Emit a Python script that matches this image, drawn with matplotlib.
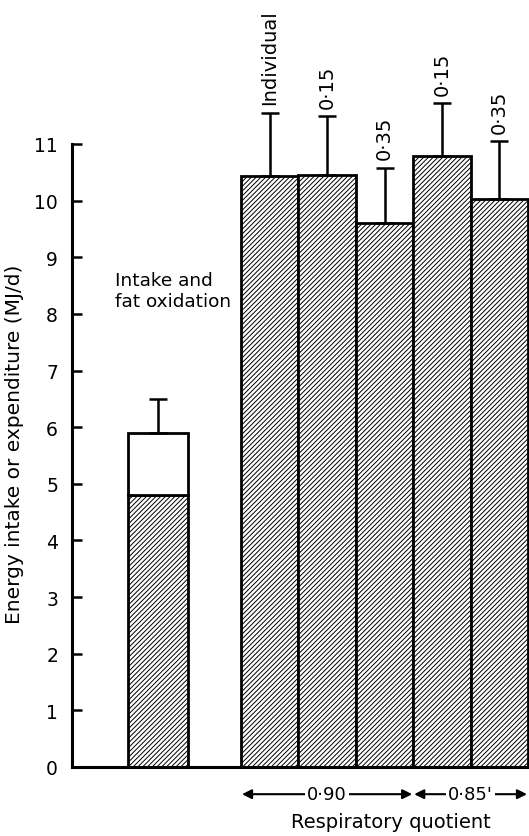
import numpy as np
import matplotlib.pyplot as plt

plt.rcParams['font.family'] = ['DejaVu Sans']
plt.rcParams['hatch.linewidth'] = 0.7

# left bar: intake split into fat oxidation (hatched) and remainder (open)
fat_oxidation = 4.8
intake_total = 5.9
intake_err = 0.6

# right bars: expenditure at different RQ / assumptions
exp_labels = ["Individual", "0\u00b715", "0\u00b735", "0\u00b715", "0\u00b735"]
exp_values = [10.43, 10.45, 9.6, 10.78, 10.03]
exp_errors = [1.12, 1.04, 0.98, 0.94, 1.02]
rq_groups = ["0\u00b790", "0\u00b785'"]
rq_sizes = [3, 2]

fig = plt.figure(figsize=(5.29, 8.37), dpi=100)
ax = fig.add_axes([72/529, 69/837, 457/529, 623/837])

lw = 2.0
hatch = '/' * 7
left_x, left_w = 86, 60
ax.bar(left_x, fat_oxidation, width=left_w, facecolor='white', edgecolor='black',
       hatch=hatch, linewidth=lw)
ax.bar(left_x, intake_total - fat_oxidation, bottom=fat_oxidation, width=left_w,
       facecolor='white', edgecolor='black', linewidth=lw)
ax.errorbar(left_x, intake_total, yerr=[[0], [intake_err]], fmt='none', ecolor='black',
            elinewidth=1.8, capsize=6.5, capthick=1.8, clip_on=False)

start, w = 169, 57.4
xs = start + w/2 + np.arange(len(exp_values)) * w
ax.bar(xs, exp_values, width=w, facecolor='white', edgecolor='black',
       hatch=hatch, linewidth=lw, clip_on=False)
ax.errorbar(xs, exp_values, yerr=[np.zeros(len(exp_errors)), exp_errors], fmt='none',
            ecolor='black', elinewidth=1.8, capsize=6.5, capthick=1.8, clip_on=False)
for x, v, e, lab in zip(xs, exp_values, exp_errors, exp_labels):
    ax.text(x, v + e + 0.15, lab, rotation=90, ha='center', va='bottom', fontsize=14)

ax.text(43, 8.75, "Intake and\nfat oxidation", fontsize=13.3, ha='left', va='top',
        linespacing=1.2)

# RQ group arrows below the axis
pos = start
for name, n in zip(rq_groups, rq_sizes):
    x0, x1 = pos + 1, pos + n * w - 1
    ax.annotate('', xy=(x0, -0.48), xytext=(x1, -0.48), annotation_clip=False,
                arrowprops=dict(arrowstyle='<|-|>', color='black', lw=1.5,
                                mutation_scale=14, shrinkA=0, shrinkB=0))
    ax.text((x0 + x1) / 2, -0.48, name, ha='center', va='center', fontsize=13,
            bbox=dict(facecolor='white', edgecolor='none', pad=1.5))
    pos += n * w
ax.text(319, -0.97, "Respiratory quotient", ha='center', va='center', fontsize=14)

ax.set_xlim(0, 457)
ax.set_ylim(0, 11)
ax.set_yticks(range(0, 12))
ax.set_xticks([])
ax.spines['top'].set_visible(False)
ax.spines['right'].set_visible(False)
ax.spines['left'].set_linewidth(2.2)
ax.spines['bottom'].set_linewidth(2.2)
ax.tick_params(axis='y', direction='in', length=7, width=1.8, labelsize=13.5, pad=10)
ax.set_ylabel("Energy intake or expenditure (MJ/d)", fontsize=14.5)
ax.yaxis.set_label_coords(-0.105, 0.52)

fig.savefig("out.png", dpi=100)
